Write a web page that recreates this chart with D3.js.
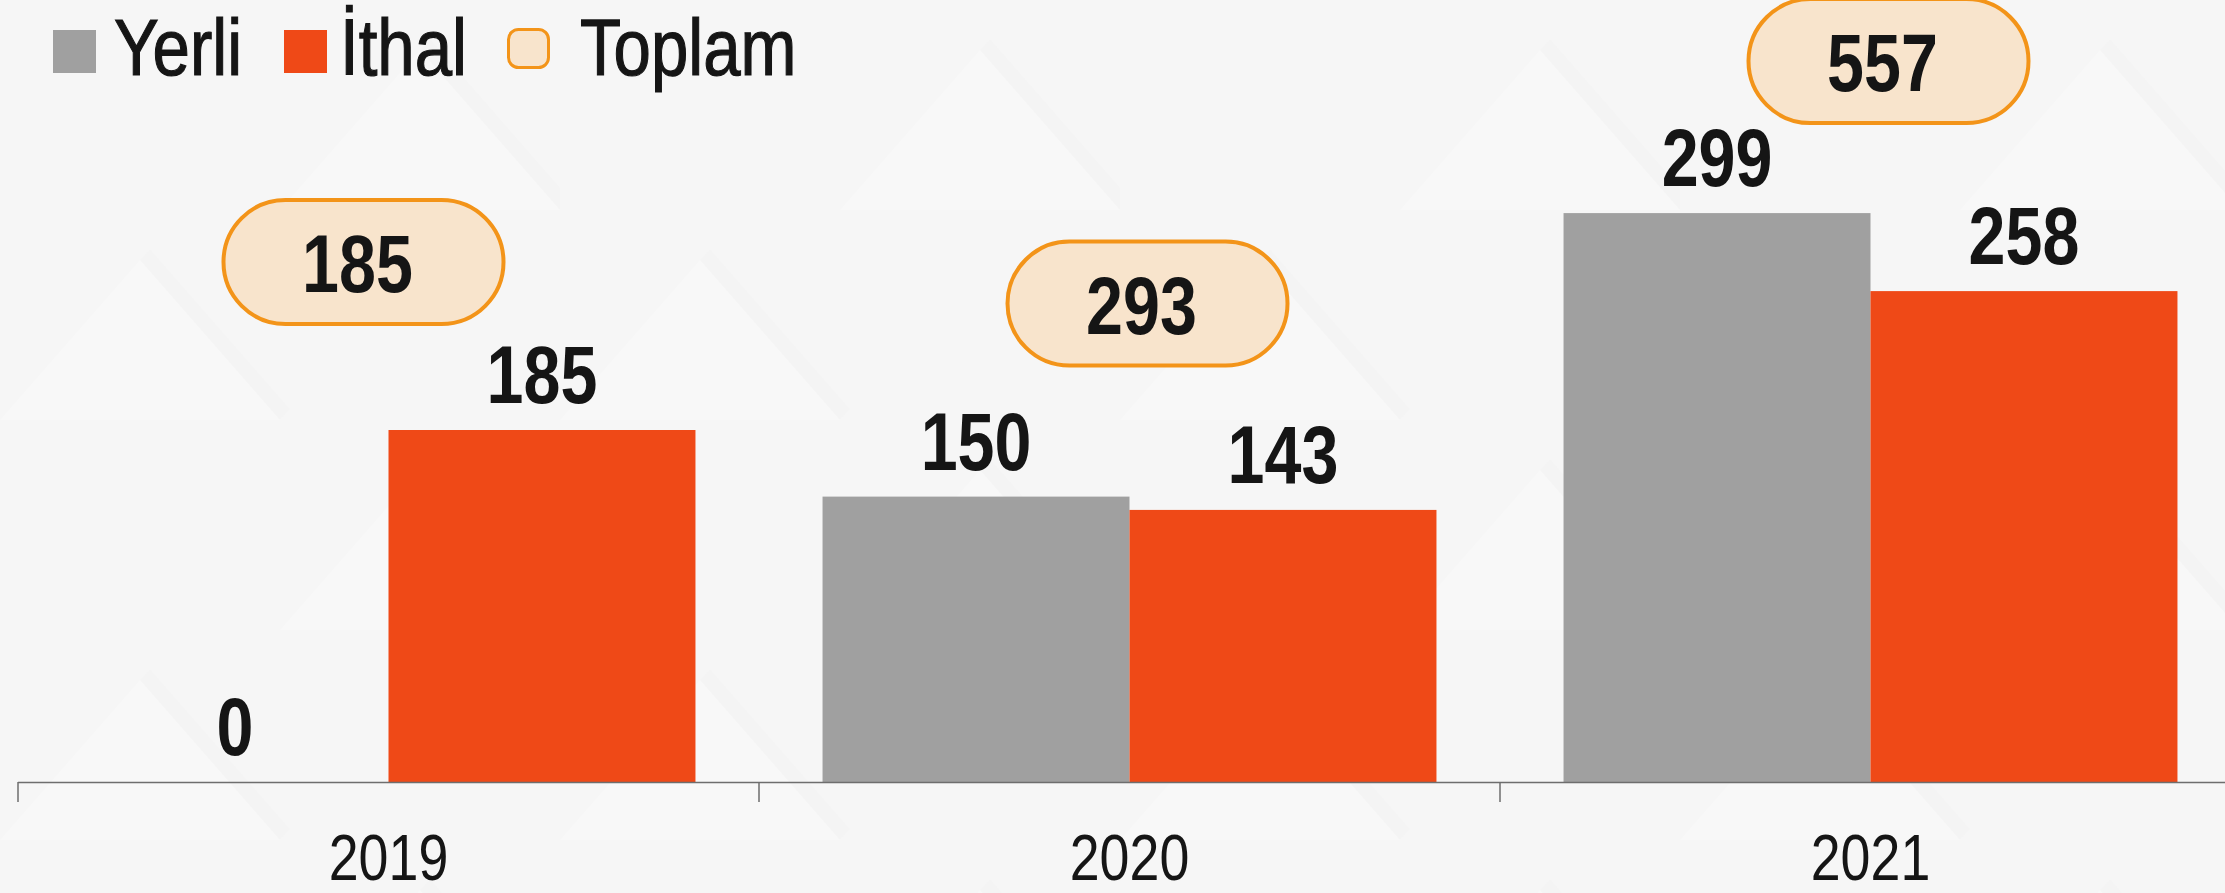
<!DOCTYPE html>
<html>
<head>
<meta charset="utf-8">
<script src="https://cdn.jsdelivr.net/npm/d3@7"></script>
<style>
  html, body { margin: 0; padding: 0; background: #f7f7f7; }
  svg { display: block; font-family: "Liberation Sans", Arial, sans-serif; }
</style>
</head>
<body>
<script>
// chart size
const width = 2225;
const height = 893;

// data
const years = ["2019", "2020", "2021"];
const series = ["Yerli", "İthal"];
const yerli = [0, 150, 299];
const ithal = [185, 143, 258];
const totals = [185, 293, 557];

// colours
const colors = { "Yerli": "#a0a0a0", "İthal": "#ef4917" };
const pillFill = "#f8e4cc";
const pillStroke = "#f39419";
const textColor = "#151515";

// narrow look: Liberation Sans squeezed horizontally
const squeeze = 0.82;

// pill nudges (dx from band centre, dy from top of the taller bar)
const pillNudge = [[-25, -168], [18, -193], [18, -152]];

const svg = d3.select("body")
  .append("svg")
  .attr("width", width)
  .attr("height", height);

// background with very faint diagonal shapes
const defs = svg.append("defs");
const pat = defs.append("pattern")
  .attr("id", "bgpat")
  .attr("patternUnits", "userSpaceOnUse")
  .attr("width", 560)
  .attr("height", 420);
pat.append("rect").attr("width", 560).attr("height", 420).attr("fill", "#f6f6f6");
pat.append("path")
  .attr("d", "M0,420 L140,260 L280,420 Z M280,210 L420,50 L560,210 Z")
  .attr("fill", "#ffffff")
  .attr("opacity", 0.2);
pat.append("path")
  .attr("d", "M140,260 L150,249 L290,409 L280,420 Z M420,50 L430,39 L570,199 L560,210 Z")
  .attr("fill", "#eeeeee")
  .attr("opacity", 0.25);
svg.append("rect")
  .attr("width", width)
  .attr("height", height)
  .attr("fill", "url(#bgpat)");

// put a text at (x, y) with the squeeze
function place(sel, fx, fy, k = squeeze) {
  sel.attr("x", 0)
    .attr("y", 0)
    .attr("transform", (d, i) => `translate(${fx(d, i)},${fy(d, i)}) scale(${k},1)`);
}

// scales
const x0 = d3.scaleBand()
  .domain(years)
  .range([18, 18 + 741 * 3])
  .padding(0);

const x1 = d3.scaleBand()
  .domain(series)
  .range([0, x0.bandwidth()])
  .paddingInner(0)
  .paddingOuter(0.207);

const y = d3.scaleLinear()
  .domain([0, 411])
  .range([782, 0]);

const rows = years.map((yr, i) => ({
  year: yr,
  values: [
    { key: "Yerli", value: yerli[i] },
    { key: "İthal", value: ithal[i] },
  ],
  total: totals[i],
  nudge: pillNudge[i],
}));

// bars
const group = svg.append("g")
  .selectAll("g")
  .data(rows)
  .enter()
  .append("g")
  .attr("transform", (d) => `translate(${x0(d.year)},0)`);

group.selectAll("rect")
  .data((d) => d.values)
  .enter()
  .append("rect")
  .attr("x", (d) => x1(d.key))
  .attr("y", (d) => y(d.value))
  .attr("width", x1.bandwidth())
  .attr("height", (d) => y(0) - y(d.value))
  .attr("fill", (d) => colors[d.key]);

// value labels
group.selectAll("text.val")
  .data((d) => d.values)
  .enter()
  .append("text")
  .attr("class", "val")
  .attr("text-anchor", "middle")
  .attr("font-size", 81)
  .attr("font-weight", "bold")
  .attr("fill", textColor)
  .text((d) => d.value)
  .call(place, (d) => x1(d.key) + x1.bandwidth() / 2, (d) => y(d.value) - 27);

// total pills
const pill = group.append("g")
  .attr("transform", (d) => {
    const top = y(d3.max(d.values, (v) => v.value));
    return `translate(${x0.bandwidth() / 2 + d.nudge[0]},${top + d.nudge[1]})`;
  });

pill.append("rect")
  .attr("x", -140)
  .attr("y", -62)
  .attr("width", 280)
  .attr("height", 124)
  .attr("rx", 62)
  .attr("fill", pillFill)
  .attr("stroke", pillStroke)
  .attr("stroke-width", 4);

pill.append("text")
  .attr("text-anchor", "middle")
  .attr("font-size", 81)
  .attr("font-weight", "bold")
  .attr("fill", textColor)
  .text((d) => d.total)
  .call(place, () => -6, () => 30);

// x axis
const axis = svg.append("g")
  .attr("transform", `translate(0,${y(0)})`)
  .call(d3.axisBottom(x0).tickSize(0));

axis.select(".domain").remove();
axis.selectAll(".tick text")
  .attr("dy", 0)
  .attr("font-size", 64)
  .attr("font-family", null)
  .attr("fill", textColor)
  .call(place, () => 0, () => 98, 0.84);

axis.append("line")
  .attr("x1", x0.range()[0])
  .attr("x2", width)
  .attr("y1", 0.5)
  .attr("y2", 0.5)
  .attr("stroke", "#6e6e6e")
  .attr("stroke-width", 1.5);

axis.selectAll("line.sep")
  .data(years)
  .enter()
  .append("line")
  .attr("class", "sep")
  .attr("x1", (d) => x0(d))
  .attr("x2", (d) => x0(d))
  .attr("y1", 0)
  .attr("y2", 20)
  .attr("stroke", "#6e6e6e")
  .attr("stroke-width", 1.5);

// legend
const legendItems = [
  { label: "Yerli", x: 53, textX: 114, kind: "square", color: colors["Yerli"] },
  { label: "İthal", x: 284, textX: 340, kind: "square", color: colors["İthal"] },
  { label: "Toplam", x: 507, textX: 580, kind: "pill", color: pillFill },
];

const legend = svg.append("g")
  .selectAll("g")
  .data(legendItems)
  .enter()
  .append("g");

legend.append("rect")
  .attr("x", (d) => (d.kind === "pill" ? d.x + 1.5 : d.x))
  .attr("y", (d) => (d.kind === "pill" ? 29.5 : 30))
  .attr("width", (d) => (d.kind === "pill" ? 40 : 43))
  .attr("height", (d) => (d.kind === "pill" ? 38 : 43))
  .attr("rx", (d) => (d.kind === "pill" ? 10 : 0))
  .attr("fill", (d) => d.color)
  .attr("stroke", (d) => (d.kind === "pill" ? pillStroke : "none"))
  .attr("stroke-width", 3);

legend.append("text")
  .attr("font-size", 79)
  .attr("fill", textColor)
  .attr("stroke", textColor)
  .attr("stroke-width", 1.2)
  .text((d) => d.label)
  .call(place, (d) => d.textX, () => 75, 0.85);
</script>
</body>
</html>
